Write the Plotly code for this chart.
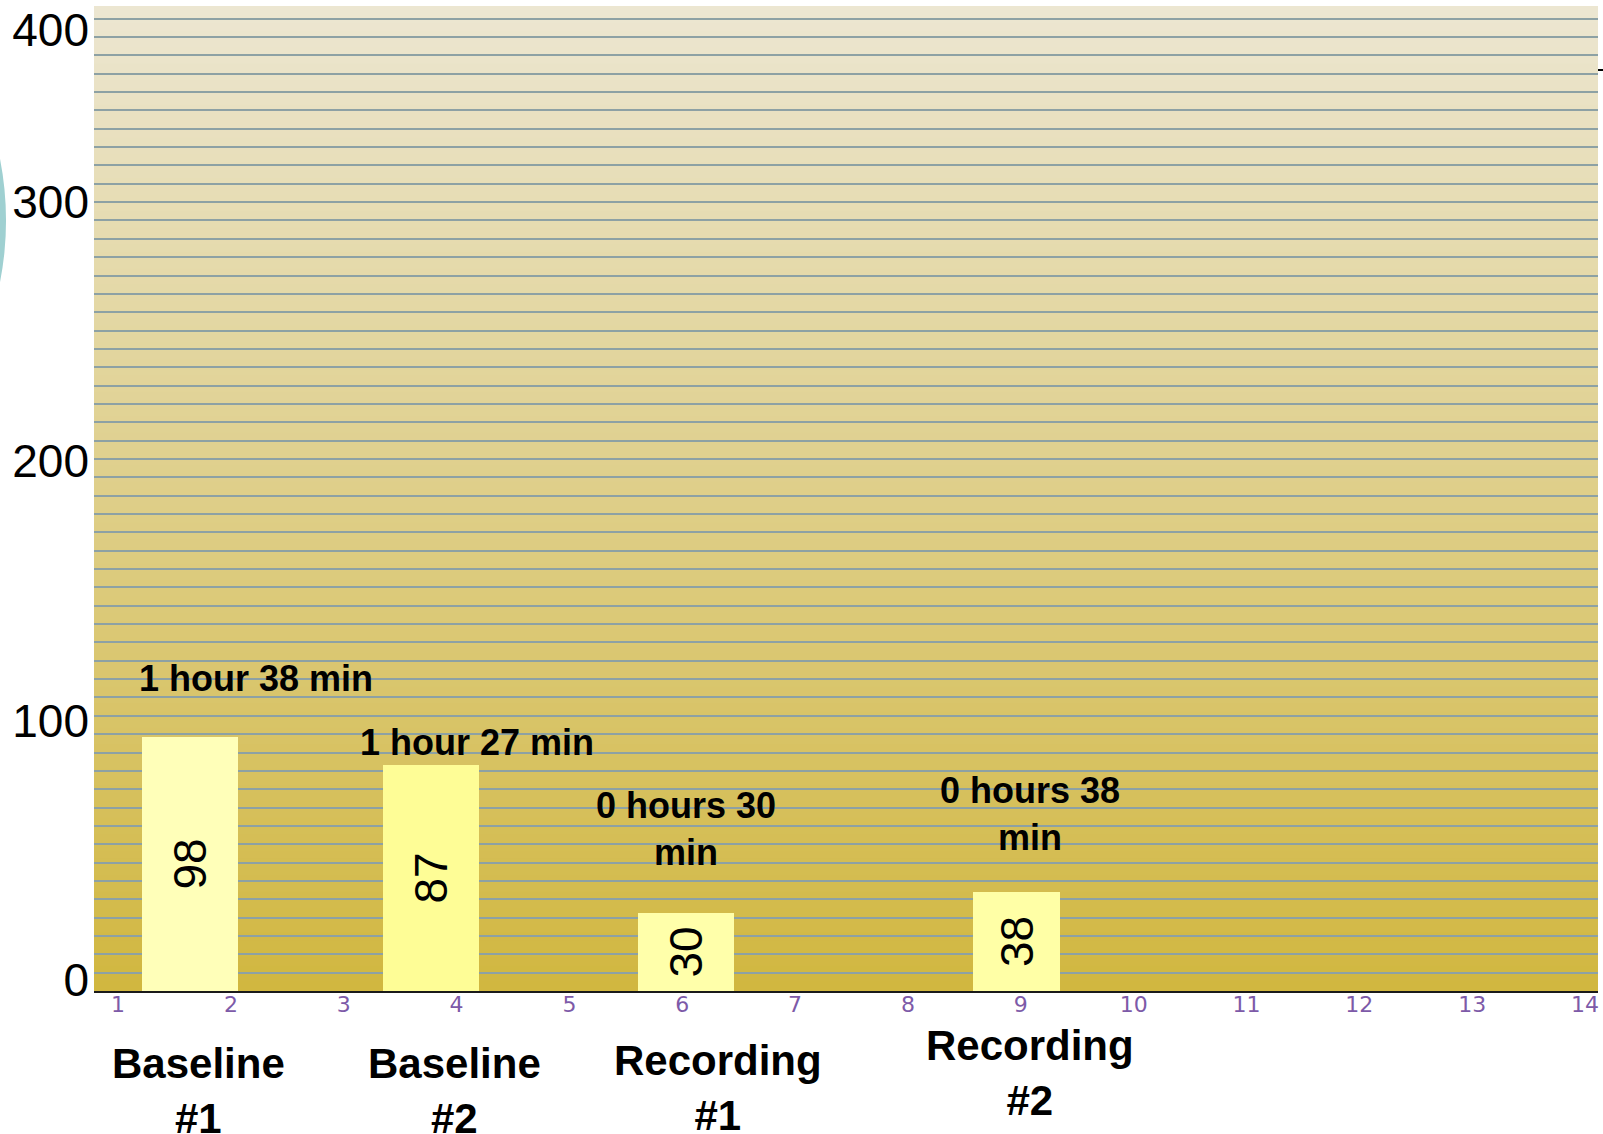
import plotly.graph_objects as go

# ---- data -------------------------------------------------------------
sessions = ["Baseline<br>#1", "Baseline<br>#2", "Recording<br>#1", "Recording<br>#2"]
minutes = [98, 87, 30, 38]
durations = ["1 hour 38 min", "1 hour 27 min", "0 hours 30<br>min", "0 hours 38<br>min"]
bar_x = [1.64, 3.77, 6.03, 8.96]
bar_width = [0.85, 0.85, 0.85, 0.77]
bar_colors = ["#FFFFB9", "#FEFD96", "#FFFFAA", "#FFFFA6"]

x_ticks = list(range(1, 15))
y_tick_vals = [0, 100, 200, 300, 366]
y_tick_text = ["0", "100", "200", "300", "400"]

# label placement: durations in axis units, session names in x units / paper y
duration_pos = [(2.22, 120.6), (4.18, 95.8), (6.03, 62.4), (9.08, 68.4)]
session_pos = [(1.71, -0.1013), (3.98, -0.1013), (6.32, -0.0983), (9.08, -0.0831)]

SANS = "Liberation Sans, Arial, sans-serif"

fig = go.Figure()

fig.add_trace(go.Bar(
    x=bar_x, y=minutes, width=bar_width,
    marker=dict(color=bar_colors, line=dict(width=0)),
    text=[str(v) for v in minutes],
    textposition="inside", insidetextanchor="middle", textangle=-90,
    textfont=dict(family=SANS, size=46, color="black"),
    constraintext="none",
    hoverinfo="skip", showlegend=False,
))

# vertical gradient behind the plot area
def mix(c0, c1, t):
    return "rgb(%d,%d,%d)" % tuple(round(a + (b - a) * t) for a, b in zip(c0, c1))

top_col = (236, 230, 209)
bot_col = (209, 183, 64)
n_bands = 120
shapes = []
for i in range(n_bands):
    t = i / (n_bands - 1)
    shapes.append(dict(
        type="rect", xref="paper", yref="paper",
        x0=0, x1=1, y0=1 - (i + 1) / n_bands, y1=1 - i / n_bands + 0.001,
        fillcolor=mix(top_col, bot_col, t), line=dict(width=0), layer="below",
    ))

# partial teal disc at the left edge and small tick at top right
shapes.append(dict(type="circle", xref="paper", yref="paper",
                   x0=-0.488, x1=-0.0585, y0=0.456, y1=1.110,
                   fillcolor="#9FD0D1", line=dict(width=0), layer="below"))
shapes.append(dict(type="line", xref="paper", yref="paper",
                   x0=1.0, x1=1.004, y0=0.936, y1=0.936,
                   line=dict(color="black", width=2)))

annotations = []
for txt, (ax, ay) in zip(durations, duration_pos):
    annotations.append(dict(
        x=ax, y=ay, xref="x", yref="y", text=txt, showarrow=False,
        font=dict(family=SANS, size=36, color="black", weight="bold"),
        align="center", xanchor="center", yanchor="middle",
    ))
for txt, (ax, ay) in zip(sessions, session_pos):
    annotations.append(dict(
        x=ax, y=ay, xref="x", yref="paper", text=txt, showarrow=False,
        font=dict(family=SANS, size=42, color="black", weight="bold"),
        align="center", xanchor="center", yanchor="middle",
    ))

fig.update_layout(
    width=1603, height=1134, autosize=False,
    margin=dict(l=94, r=5, t=4, b=143, pad=0),
    paper_bgcolor="white", plot_bgcolor="#D1B740",
    shapes=shapes, annotations=annotations,
    bargap=0,
    xaxis=dict(
        range=[0.787, 14.115], tickvals=x_ticks, ticks="",
        tickfont=dict(family="DejaVu Sans, Verdana, sans-serif", size=22, color="#7D5AA8"),
        showgrid=False, zeroline=False,
        showline=True, linecolor="#1A1A1A", linewidth=2,
        ticklabelstandoff=-7,
    ),
    yaxis=dict(
        range=[0, 379.2], tickvals=y_tick_vals, ticktext=y_tick_text, ticks="",
        tickfont=dict(family=SANS, size=46, color="black"),
        showgrid=False, zeroline=False, showline=False,
        ticklabelshift=-11, ticklabelstandoff=4,
        minor=dict(dtick=7.07, tick0=0, showgrid=True,
                   gridcolor="#8DA1A4", gridwidth=2, ticks=""),
    ),
)

fig.write_html("out.html")
